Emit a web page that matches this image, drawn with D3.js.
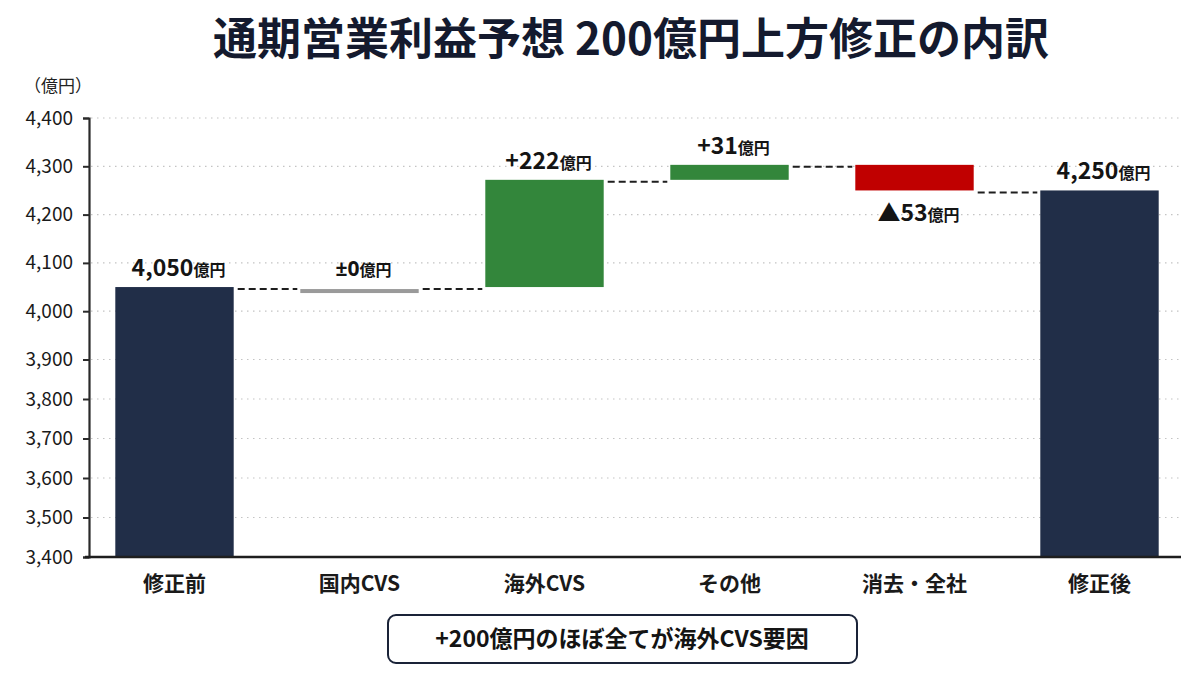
<!DOCTYPE html>
<html>
<head>
<meta charset="utf-8">
<script src="https://cdn.jsdelivr.net/npm/d3@7"></script>
<style>
  html, body { margin: 0; padding: 0; background: #fff; }
  svg text { font-family: "Noto Sans CJK JP", "Noto Sans", sans-serif; }
</style>
</head>
<body>
<div id="chart"></div>
<script>
(function(){
var width = 1200,
    height = 675;

// data
var categories = ['修正前', '国内CVS', '海外CVS', 'その他', '消去・全社', '修正後']
var values = [4050, 0, 222, 31, -53, 4250]
var kinds = ['total', 'delta', 'delta', 'delta', 'delta', 'total']
var yTicks = [3400, 3500, 3600, 3700, 3800, 3900, 4000, 4100, 4200, 4300, 4400]

var titleText = '通期営業利益予想 200億円上方修正の内訳'
var unitText = '（億円）'
var noteText = '+200億円のほぼ全てが海外CVS要因'

var colors = {
  total: '#212e48',
  up: '#33863b',
  down: '#c00000',
  zero: '#9a9a9a'
}

// build waterfall steps
var running = 0
var steps = categories.map(function(c, i) {
  var v = values[i]
  var d = { name: c, value: v, kind: kinds[i] }
  if (kinds[i] === 'total') {
    d.start = null
    d.end = v
  } else {
    d.start = running
    d.end = running + v
  }
  running = d.end
  return d
})

var svg = d3.select('#chart')
  .append('svg')
  .attr('width', width)
  .attr('height', height)

// scales
var xScale = d3.scaleBand()
  .domain(categories)
  .range([82, 1192])
  .paddingInner(0.36)
  .paddingOuter(0.18)

// the source axis is squeezed below 3,900
var yScale = d3.scaleLinear()
  .domain([3400, 3900, 4400])
  .range([557, 359.5, 118])

var axisX = 89
var baseY = yScale(3400)

// title
svg.append('text')
  .attr('x', 631)
  .attr('y', 55)
  .attr('text-anchor', 'middle')
  .attr('font-size', 44)
  .attr('font-weight', 700)
  .attr('fill', '#141a2e')
  .attr('xml:space', 'preserve')
  .text(titleText)

svg.append('text')
  .attr('x', 24)
  .attr('y', 92)
  .attr('font-size', 17)
  .attr('fill', '#222')
  .text(unitText)

// grid
svg.append('g')
  .selectAll('line')
  .data(yTicks.filter(function(t) { return t > 3400 }))
  .enter()
  .append('line')
    .attr('x1', axisX + 2)
    .attr('x2', 1180)
    .attr('y1', function(d) { return yScale(d) })
    .attr('y2', function(d) { return yScale(d) })
    .attr('stroke', '#c4c4c4')
    .attr('stroke-width', 1.2)
    .attr('stroke-dasharray', '1.5,4.5')

// y axis
var yAxis = svg.append('g')
  .attr('transform', 'translate(' + axisX + ',0)')
  .call(d3.axisLeft(yScale).tickValues(yTicks).tickSize(6).tickPadding(10).tickFormat(d3.format(',')))
yAxis.select('.domain').attr('stroke', '#2a2a2a').attr('stroke-width', 2.2)
yAxis.selectAll('.tick line').attr('stroke', '#2a2a2a').attr('stroke-width', 2)
yAxis.selectAll('.tick text')
  .attr('font-size', 19)
  .attr('fill', '#1a1a1a')
  .style('font-family', '"Noto Sans CJK JP", "Noto Sans", sans-serif')

// bars
function barColor(d) {
  if (d.kind === 'total') return colors.total
  if (d.value > 0) return colors.up
  if (d.value < 0) return colors.down
  return colors.zero
}

svg.append('g')
  .selectAll('rect')
  .data(steps)
  .enter()
  .append('rect')
    .attr('x', function(d) { return xScale(d.name) })
    .attr('width', xScale.bandwidth())
    .attr('y', function(d) {
      if (d.kind === 'total') return yScale(d.end)
      if (d.value === 0) return yScale(d.end) + 2
      return yScale(Math.max(d.start, d.end))
    })
    .attr('height', function(d) {
      if (d.kind === 'total') return baseY - yScale(d.end)
      return Math.max(4, Math.abs(yScale(d.start) - yScale(d.end)))
    })
    .attr('fill', barColor)

// connectors
var links = steps.slice(0, -1).map(function(d, i) {
  return { from: d, to: steps[i + 1], level: d.end }
})

svg.append('g')
  .selectAll('line')
  .data(links)
  .enter()
  .append('line')
    .attr('x1', function(d) { return xScale(d.from.name) + xScale.bandwidth() + 4 })
    .attr('x2', function(d) { return xScale(d.to.name) - 3 })
    .attr('y1', function(d) { return yScale(d.level) + 2 })
    .attr('y2', function(d) { return yScale(d.level) + 2 })
    .attr('stroke', '#1e1e1e')
    .attr('stroke-width', 2)
    .attr('stroke-dasharray', '7,4')

// x axis
svg.append('line')
  .attr('x1', 85)
  .attr('x2', 1181)
  .attr('y1', baseY)
  .attr('y2', baseY)
  .attr('stroke', '#1e1e1e')
  .attr('stroke-width', 2.4)

svg.append('g')
  .selectAll('text')
  .data(categories)
  .enter()
  .append('text')
    .attr('x', function(d) { return xScale(d) + xScale.bandwidth() / 2 })
    .attr('y', 591)
    .attr('text-anchor', 'middle')
    .attr('font-size', 21)
    .attr('font-weight', 700)
    .attr('fill', '#1a1a1a')
    .text(function(d) { return d })

// value labels
function labelText(d) {
  if (d.kind === 'total') return d3.format(',')(d.value)
  if (d.value > 0) return '+' + d.value
  if (d.value < 0) return '▲' + Math.abs(d.value)
  return '±0'
}

var labels = svg.append('g')
  .selectAll('text')
  .data(steps)
  .enter()
  .append('text')
    .attr('x', function(d) { return xScale(d.name) + xScale.bandwidth() / 2 + 4 })
    .attr('y', function(d) {
      if (d.value < 0) return yScale(d.end) + 31
      var top = d.kind === 'total' ? yScale(d.end) : yScale(Math.max(d.start, d.end))
      return top - 11
    })
    .attr('text-anchor', 'middle')
    .attr('font-weight', 700)
    .attr('fill', '#141414')

labels.append('tspan')
  .attr('font-size', function(d) { return d.value === 0 ? 21 : 23 })
  .style('font-family', function(d) {
    return d.value === 0 ? '"Noto Sans", sans-serif' : '"Noto Sans CJK JP", sans-serif'
  })
  .text(labelText)
labels.append('tspan')
  .attr('font-size', 16)
  .text('億円')

// note box
svg.append('rect')
  .attr('x', 388)
  .attr('y', 615)
  .attr('width', 469)
  .attr('height', 48)
  .attr('rx', 8)
  .attr('fill', '#fff')
  .attr('stroke', '#1a2338')
  .attr('stroke-width', 2)

svg.append('text')
  .attr('x', 622)
  .attr('y', 647)
  .attr('text-anchor', 'middle')
  .attr('font-size', 23)
  .attr('font-weight', 700)
  .attr('fill', '#141414')
  .text(noteText)

})()
</script>
</body>
</html>
